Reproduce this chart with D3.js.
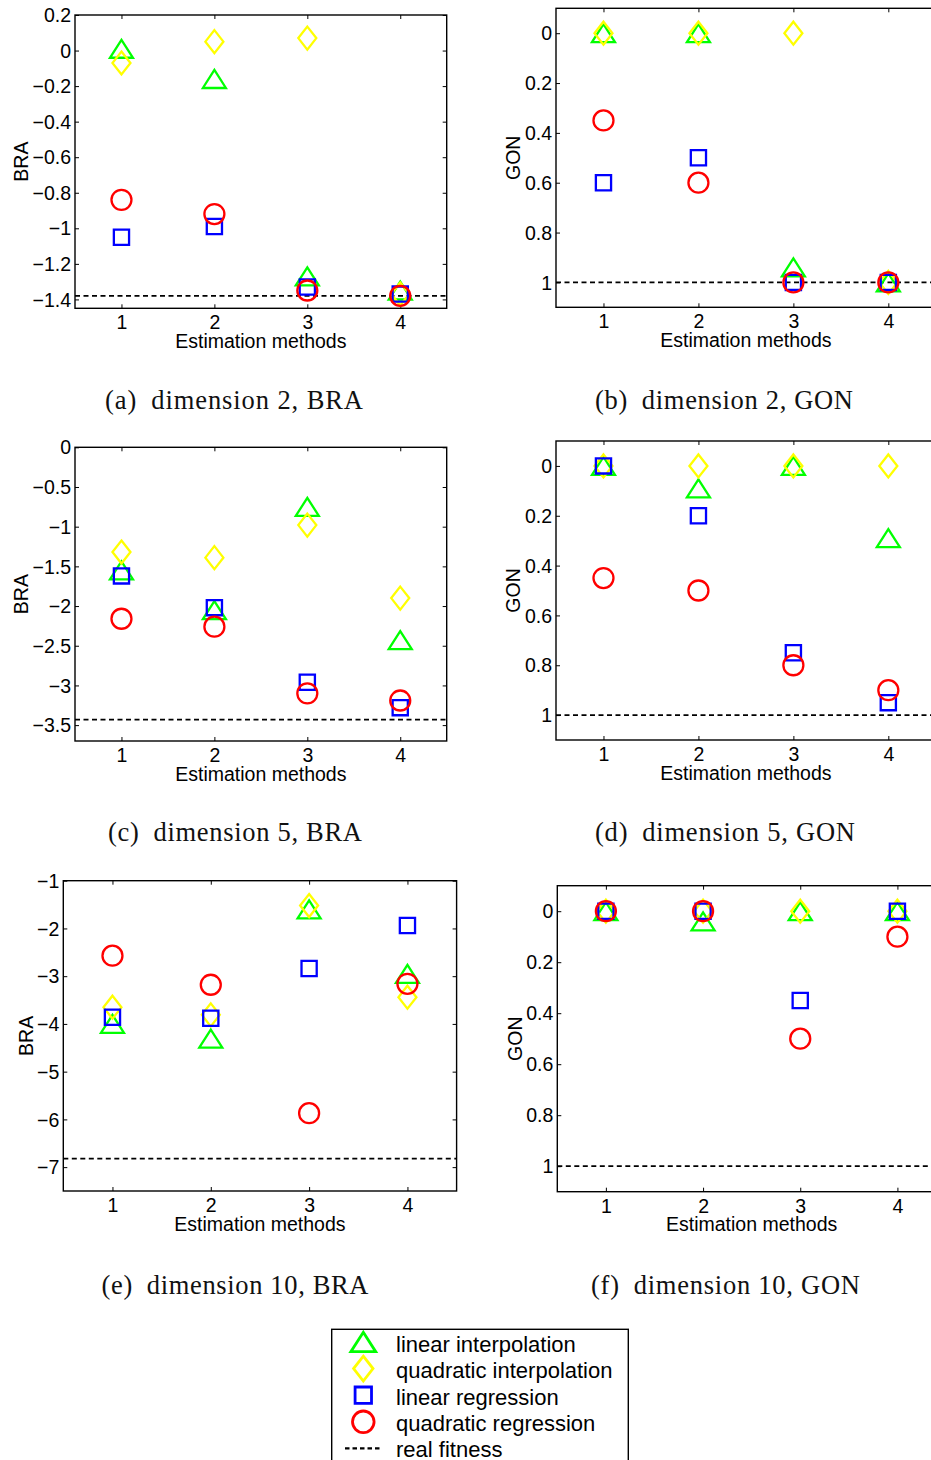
<!DOCTYPE html>
<html>
<head>
<meta charset="utf-8">
<script src="https://cdn.jsdelivr.net/npm/d3@7"></script>
<style>
  html, body { margin: 0; padding: 0; background: #fff; overflow: hidden; }
  svg { display: block; }
</style>
</head>
<body>
<svg id="fig" width="931" height="1460"></svg>
<script>
// Estimation methods on the x axis
const methods = [1, 2, 3, 4];

const seriesLabels = ["linear interpolation", "quadratic interpolation", "linear regression", "quadratic regression"];
const seriesColors = ["#00ff00", "#ffff00", "#0000ff", "#ff0000"];
const seriesShapes = ["triangle", "diamond", "square", "circle"];

// Rows: linear interpolation, quadratic interpolation, linear regression, quadratic regression
const bra2 = [
  [0.01, -0.16, -1.27, -1.35],
  [-0.07, 0.05, 0.07, -1.37],
  [-1.05, -0.99, -1.33, -1.37],
  [-0.84, -0.92, -1.35, -1.38]
];
const gon2 = [
  [0, 0, 0.94, 1.0],
  [0, 0, 0, 1.0],
  [0.6, 0.5, 1.0, 1.0],
  [0.35, 0.6, 1.0, 1.0]
];
const bra5 = [
  [-1.55, -2.05, -0.75, -2.43],
  [-1.32, -1.39, -0.98, -1.9],
  [-1.62, -2.02, -2.96, -3.28],
  [-2.16, -2.26, -3.1, -3.19]
];
const gon5 = [
  [0, 0.09, 0, 0.29],
  [0, 0, 0, 0],
  [0, 0.2, 0.75, 0.95],
  [0.45, 0.5, 0.8, 0.9]
];
const bra10 = [
  [-4.0, -4.31, -1.6, -2.95],
  [-3.65, -3.81, -1.52, -3.44],
  [-3.86, -3.88, -2.84, -1.94],
  [-2.57, -3.18, -5.87, -3.16]
];
const gon10 = [
  [0, 0.04, 0, 0],
  [0, 0, 0, 0],
  [0, 0, 0.35, 0],
  [0, 0, 0.5, 0.1]
];

// Real fitness reference level of each panel (a)-(f)
const realFitness = [-1.38, 1, -3.43, 1, -6.82, 1];

// Tick labels
const braTicks2 = [0.2, 0, -0.2, -0.4, -0.6, -0.8, -1, -1.2, -1.4];
const braTicks5 = [0, -0.5, -1, -1.5, -2, -2.5, -3, -3.5];
const braTicks10 = [-1, -2, -3, -4, -5, -6, -7];
const gonTicks = [0, 0.2, 0.4, 0.6, 0.8, 1];

const captions = [
  "(a)\u2002dimension 2, BRA", "(b)\u2002dimension 2, GON",
  "(c)\u2002dimension 5, BRA", "(d)\u2002dimension 5, GON",
  "(e)\u2002dimension 10, BRA", "(f)\u2002dimension 10, GON"
];

// Panel layout: plot box [left, top, right, bottom], y domain [bottom value, top value]
const panels = [
  { data: bra2,  ticks: braTicks2,  yDomain: [-1.45, 0.2], ylab: "BRA", box: [75, 15, 446.7, 308.3],     cap: [234, 409, 258] },
  { data: gon2,  ticks: gonTicks,   yDomain: [1.1, -0.1],   ylab: "GON", box: [556, 8.3, 935.8, 307.3],   cap: [724, 409, 258] },
  { data: bra5,  ticks: braTicks5,  yDomain: [-3.7, 0],     ylab: "BRA", box: [75, 447.3, 446.7, 741],    cap: [235, 841, 254] },
  { data: gon5,  ticks: gonTicks,   yDomain: [1.1, -0.1],   ylab: "GON", box: [556, 441, 935.8, 740],     cap: [725, 841, 260] },
  { data: bra10, ticks: braTicks10, yDomain: [-7.5, -1],    ylab: "BRA", box: [63.3, 880.7, 456.6, 1191], cap: [235, 1294, 267] },
  { data: gon10, ticks: gonTicks,   yDomain: [1.1, -0.1],   ylab: "GON", box: [557.3, 885.7, 946, 1191.7], cap: [725.5, 1294, 269] }
];

const sansFont = "'Liberation Sans', Arial, Helvetica, sans-serif";
const serifFont = "'Liberation Serif', 'Times New Roman', serif";
const tickFmt = d3.format("~g");

// Marker outlines drawn around the data point
function markerPath(shape, k) {
  const p = d3.path();
  if (shape === "triangle") {
    const hw = 11.5 * k, hh = 9 * k;
    p.moveTo(0, -hh); p.lineTo(hw, hh); p.lineTo(-hw, hh); p.closePath();
  } else if (shape === "diamond") {
    const hw = 9 * k, hh = 11.5 * k;
    p.moveTo(0, -hh); p.lineTo(hw, 0); p.lineTo(0, hh); p.lineTo(-hw, 0); p.closePath();
  } else if (shape === "square") {
    const h = 7.6 * k;
    p.rect(-h, -h, 2 * h, 2 * h);
  } else {
    const r = 10 * k;
    p.moveTo(r, 0); p.arc(0, 0, r, 0, 2 * Math.PI); p.closePath();
  }
  return p.toString();
}

const svg = d3.select("#fig");

panels.forEach((pn, pi) => {
  const [L, T, R, B] = pn.box;
  const x = d3.scaleLinear().domain([0.5, 4.5]).range([L, R]);
  const y = d3.scaleLinear().domain(pn.yDomain).range([B, T]);
  const g = svg.append("g");

  // inward ticks on all four sides
  const styleAxis = sel => {
    sel.select(".domain").remove();
    sel.selectAll(".tick line").attr("stroke", "#000").attr("stroke-width", 1);
    sel.selectAll("text").attr("fill", "#000").style("font-family", sansFont).style("font-size", "19.5px");
    sel.attr("font-family", null).attr("font-size", null);
  };
  const yL = g.append("g").attr("transform", `translate(${L},0)`)
    .call(d3.axisLeft(y).tickValues(pn.ticks).tickSize(-4).tickPadding(4).tickFormat(tickFmt));
  styleAxis(yL);
  yL.selectAll("text").attr("dy", "0.34em");
  const yR = g.append("g").attr("transform", `translate(${R},0)`)
    .call(d3.axisRight(y).tickValues(pn.ticks).tickSize(-4).tickFormat(""));
  styleAxis(yR);
  const xB = g.append("g").attr("transform", `translate(0,${B})`)
    .call(d3.axisBottom(x).tickValues(methods).tickSize(-4).tickPadding(7).tickFormat(d3.format("d")));
  styleAxis(xB);
  const xT = g.append("g").attr("transform", `translate(0,${T})`)
    .call(d3.axisTop(x).tickValues(methods).tickSize(-4).tickFormat(""));
  styleAxis(xT);

  // plot box
  g.append("rect").attr("x", L).attr("y", T).attr("width", R - L).attr("height", B - T)
    .attr("fill", "none").attr("stroke", "#000").attr("stroke-width", 1.4);

  // axis labels
  g.append("text").attr("x", (L + R) / 2).attr("y", B + 39.5)
    .attr("text-anchor", "middle").style("font-family", sansFont).style("font-size", "19.5px")
    .text("Estimation methods");
  let maxW = 0;
  yL.selectAll("text").each(function () { maxW = Math.max(maxW, this.getComputedTextLength()); });
  const ylx = L - 4 - maxW - 4.5;
  g.append("text").attr("transform", `translate(${ylx},${(T + B) / 2}) rotate(-90)`)
    .attr("text-anchor", "middle").style("font-family", sansFont).style("font-size", "19.5px")
    .text(pn.ylab);

  // real fitness level
  g.append("line").attr("x1", x(0.5)).attr("x2", x(4.5))
    .attr("y1", y(realFitness[pi])).attr("y2", y(realFitness[pi]))
    .attr("stroke", "#000").attr("stroke-width", 1.7).attr("stroke-dasharray", "5,3.5");

  // markers, one series after another
  pn.data.forEach((vals, si) => {
    g.append("g").selectAll("path").data(vals).join("path")
      .attr("transform", (v, i) => `translate(${x(methods[i])},${y(v)})`)
      .attr("d", markerPath(seriesShapes[si], 1))
      .attr("fill", "none").attr("stroke", seriesColors[si]).attr("stroke-width", 2.3)
      .attr("stroke-linejoin", "miter").attr("stroke-miterlimit", 10);
  });

  // caption
  svg.append("text").attr("x", pn.cap[0]).attr("y", pn.cap[1])
    .attr("text-anchor", "middle").style("font-family", serifFont).style("font-size", "26.5px")
    .attr("textLength", pn.cap[2]).attr("lengthAdjust", "spacing")
    .attr("fill", "#111")
    .text(captions[pi]);
});

// legend
const leg = svg.append("g");
leg.append("rect").attr("x", 331.7).attr("y", 1329.3).attr("width", 296.6).attr("height", 150)
  .attr("fill", "#fff").attr("stroke", "#000").attr("stroke-width", 1.4);
const legendY = d3.scalePoint().domain(d3.range(5)).range([1342, 1448.4]);
seriesLabels.forEach((lab, si) => {
  const cy = legendY(si);
  leg.append("path").attr("transform", `translate(363.3,${cy})`)
    .attr("d", markerPath(seriesShapes[si], 1.08))
    .attr("fill", "none").attr("stroke", seriesColors[si]).attr("stroke-width", 2.8)
    .attr("stroke-linejoin", "miter");
  leg.append("text").attr("x", 396).attr("y", cy + 9.5)
    .style("font-family", sansFont).style("font-size", "22px").text(lab);
});
leg.append("line").attr("x1", 345).attr("x2", 382).attr("y1", legendY(4)).attr("y2", legendY(4))
  .attr("stroke", "#000").attr("stroke-width", 2.4).attr("stroke-dasharray", "4.5,3");
leg.append("text").attr("x", 396).attr("y", legendY(4) + 9)
  .style("font-family", sansFont).style("font-size", "22px").text("real fitness");
</script>
</body>
</html>
